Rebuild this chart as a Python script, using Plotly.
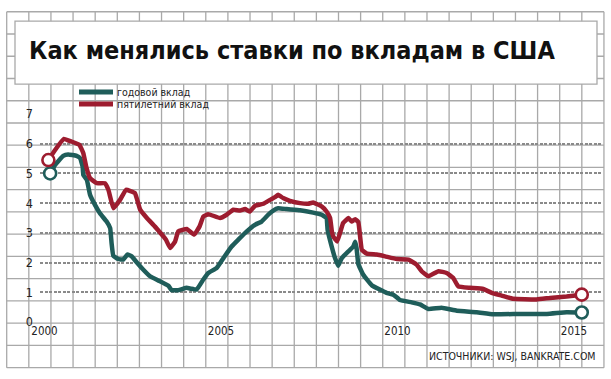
import plotly.graph_objects as go

# ---- data (decimal years, % rates) ----
one_year_t = [2000.16, 2000.30, 2000.53, 2000.67, 2000.91, 2001.01, 2001.08, 2001.10, 2001.20, 2001.29,
              2001.43, 2001.57, 2001.76, 2001.86, 2001.90, 2001.95, 2002.09, 2002.23, 2002.35, 2002.47,
              2002.61, 2002.80, 2002.99, 2003.22, 2003.51, 2003.60, 2003.79, 2004.03, 2004.15, 2004.31,
              2004.50, 2004.64, 2004.88, 2005.07, 2005.30, 2005.49, 2005.73, 2005.96, 2006.15, 2006.34,
              2006.48, 2006.62, 2006.86, 2007.24, 2007.61, 2007.85, 2007.99, 2008.02, 2008.14, 2008.23,
              2008.32, 2008.42, 2008.61, 2008.75, 2008.80, 2008.84, 2008.89, 2009.03, 2009.27, 2009.50,
              2009.69, 2009.88, 2010.07, 2010.40, 2010.64, 2010.87, 2011.25, 2011.68, 2012.24, 2012.71,
              2013.47, 2014.23, 2014.79, 2015.22]
one_year_v = [5.00, 5.29, 5.59, 5.64, 5.59, 5.51, 5.23, 4.95, 4.78, 4.28,
              3.94, 3.66, 3.38, 3.16, 2.66, 2.23, 2.12, 2.10, 2.27, 2.21,
              2.01, 1.76, 1.54, 1.40, 1.22, 1.07, 1.07, 1.15, 1.12, 1.09,
              1.43, 1.65, 1.82, 2.15, 2.54, 2.77, 3.05, 3.27, 3.38, 3.61,
              3.75, 3.83, 3.80, 3.76, 3.68, 3.61, 3.50, 3.10, 2.52, 2.15,
              1.89, 2.15, 2.38, 2.54, 2.70, 2.49, 1.95, 1.59, 1.24, 1.09,
              0.98, 0.92, 0.74, 0.66, 0.59, 0.44, 0.48, 0.38, 0.33, 0.26,
              0.27, 0.27, 0.33, 0.32]

five_year_t = [2000.11, 2000.30, 2000.55, 2000.77, 2000.99, 2001.10, 2001.18, 2001.29, 2001.48, 2001.71,
               2001.81, 2001.95, 2002.14, 2002.31, 2002.56, 2002.71, 2002.90, 2003.13, 2003.37, 2003.44,
               2003.56, 2003.70, 2003.79, 2004.03, 2004.24, 2004.39, 2004.50, 2004.64, 2004.97, 2005.16,
               2005.35, 2005.54, 2005.68, 2005.82, 2005.96, 2006.20, 2006.39, 2006.53, 2006.62, 2006.76,
               2006.95, 2007.24, 2007.47, 2007.61, 2007.85, 2007.99, 2008.09, 2008.14, 2008.18, 2008.29,
               2008.37, 2008.46, 2008.61, 2008.70, 2008.80, 2008.89, 2008.94, 2008.99, 2009.13, 2009.41,
               2009.65, 2009.98, 2010.31, 2010.54, 2010.69, 2010.87, 2011.16, 2011.39, 2011.58, 2011.72,
               2012.05, 2012.43, 2012.67, 2012.95, 2013.28, 2013.94, 2014.32, 2014.79, 2015.22]
five_year_v = [5.45, 5.79, 6.16, 6.07, 5.96, 5.68, 5.23, 4.84, 4.67, 4.67,
               4.45, 3.83, 4.11, 4.45, 4.34, 3.78, 3.50, 3.21, 2.88, 2.77,
               2.49, 2.71, 3.05, 3.13, 2.94, 3.21, 3.55, 3.63, 3.50, 3.61,
               3.78, 3.75, 3.80, 3.72, 3.91, 3.98, 4.11, 4.20, 4.28, 4.17,
               4.08, 4.00, 3.98, 4.02, 3.89, 3.72, 3.50, 3.05, 2.88, 2.71,
               2.99, 3.33, 3.50, 3.38, 3.46, 3.36, 2.88, 2.43, 2.30, 2.27,
               2.21, 2.12, 2.10, 1.93, 1.70, 1.54, 1.71, 1.65, 1.48, 1.20,
               1.15, 1.11, 0.98, 0.89, 0.78, 0.76, 0.81, 0.86, 0.92]

series_names = ["годовой вклад", "пятилетний вклад"]
x_tick_vals = [2000, 2005, 2010, 2015]
x_tick_text = ["2000", "2005", "2010", "2015"]
y_tick_vals = [0, 1, 2, 3, 4, 5, 6, 7]
title_text = "Как менялись ставки по вкладам в США"
source_text = "ИСТОЧНИКИ: WSJ, BANKRATE.COM"

GREEN = "#1f5d5a"
RED = "#9d1c2f"
FONT = "DejaVu Sans Condensed, Liberation Sans Narrow, sans-serif"

W, H = 611, 379
ML, MR, MT, MB = 40, 9, 114, 56.5
PW, PH = W - ML - MR, H - MT - MB


def px(x):
    return (x - ML) / PW


def py(y):
    return (H - MB - y) / PH


fig = go.Figure()
for t, v, c, n in [(one_year_t, one_year_v, GREEN, series_names[0]),
                   (five_year_t, five_year_v, RED, series_names[1])]:
    fig.add_trace(go.Scatter(x=t, y=v, mode="lines", name=n,
                             line=dict(color=c, width=4.5, shape="spline", smoothing=0.3),
                             showlegend=False, cliponaxis=False))
for t, v, c in [(one_year_t, one_year_v, GREEN), (five_year_t, five_year_v, RED)]:
    fig.add_trace(go.Scatter(x=[t[0], t[-1]], y=[v[0], v[-1]], mode="markers",
                             marker=dict(size=12, color="white", line=dict(color=c, width=2.6)),
                             showlegend=False, cliponaxis=False, hoverinfo="skip"))

shapes = []
GRID = "#a9a9a9"
# graph-paper background
x0g, x1g, y0g, y1g = 6.7, 604.0, 11.5, 368.3
k = 0
while 6.7 + 22.12 * k <= 604.5:
    xv = 6.7 + 22.12 * k
    shapes.append(dict(type="line", xref="paper", yref="paper", x0=px(xv), x1=px(xv),
                       y0=py(y0g), y1=py(y1g), line=dict(color=GRID, width=1.3), layer="below"))
    k += 1
k = 0
while 368.3 - 22.3 * k >= 11:
    yv = 368.3 - 22.3 * k
    shapes.append(dict(type="line", xref="paper", yref="paper", x0=px(x0g), x1=px(x1g),
                       y0=py(yv), y1=py(yv), line=dict(color=GRID, width=1.3), layer="below"))
    k += 1
# title box
shapes.append(dict(type="rect", xref="paper", yref="paper", x0=px(15), x1=px(597), y0=py(21), y1=py(84),
                   fillcolor="white", line=dict(color=GRID, width=1.3), layer="below"))
# legend samples
for yy, c in [(92, GREEN), (104, RED)]:
    shapes.append(dict(type="line", xref="paper", yref="paper", x0=px(79), x1=px(113),
                       y0=py(yy), y1=py(yy), line=dict(color=c, width=5)))

annotations = [
    dict(text="<b>" + title_text + "</b>", xref="paper", yref="paper", x=px(27), y=py(50),
         xanchor="left", yanchor="middle", showarrow=False,
         font=dict(family=FONT, size=25, color="#111111")),
    dict(text=series_names[0], xref="paper", yref="paper", x=px(115), y=py(92),
         xanchor="left", yanchor="middle", showarrow=False, font=dict(family=FONT, size=10.5, color="#222")),
    dict(text=series_names[1], xref="paper", yref="paper", x=px(115), y=py(104),
         xanchor="left", yanchor="middle", showarrow=False, font=dict(family=FONT, size=10.5, color="#222")),
    dict(text=source_text, xref="paper", yref="paper", x=px(598), y=py(357),
         xanchor="right", yanchor="middle", showarrow=False, font=dict(family=FONT, size=10.5, color="#222")),
]

fig.update_layout(
    width=W, height=H,
    margin=dict(l=ML, r=MR, t=MT, b=MB),
    paper_bgcolor="white", plot_bgcolor="rgba(0,0,0,0)",
    shapes=shapes, annotations=annotations,
    xaxis=dict(range=[1999.8725, 2015.793], showgrid=False, zeroline=False, showline=False,
               tickvals=x_tick_vals, ticktext=x_tick_text, ticks="",
               tickfont=dict(family=FONT, size=11.5, color="#222")),
    yaxis=dict(range=[0, 7], showgrid=True, gridcolor="#8a8a8a", gridwidth=2, griddash="3px,1.5px",
               zeroline=False, showline=False, tickvals=y_tick_vals, ticks="",
               ticklabelstandoff=6, tickfont=dict(family=FONT, size=12.5, color="#222")),
    showlegend=False,
)

fig.write_html("out.html", config={"displayModeBar": False},
               post_script="document.body.style.margin='0';")
